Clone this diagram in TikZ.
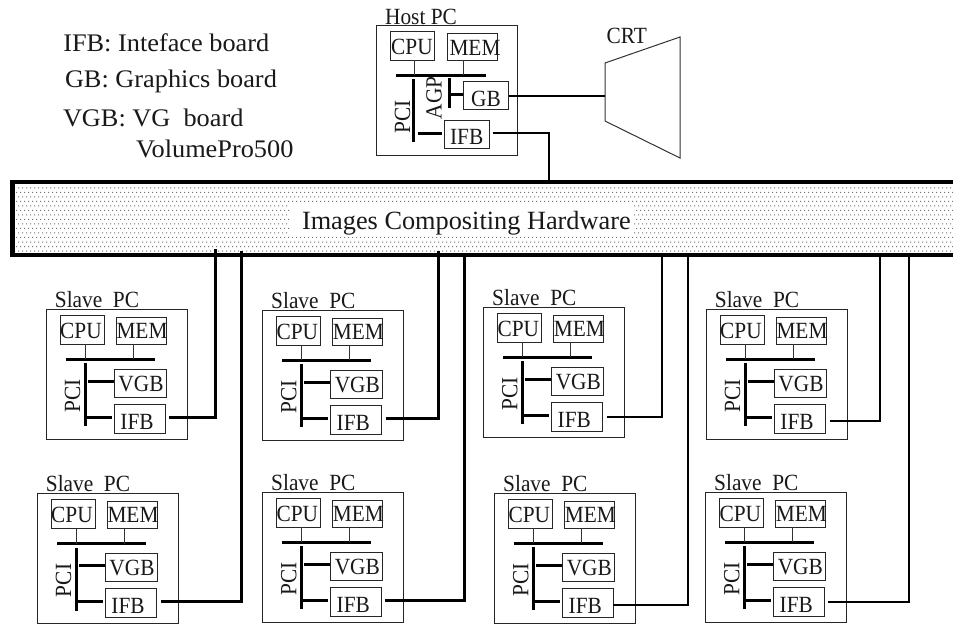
\documentclass[tikz,border=0pt]{standalone}
\usepackage{fontspec}
\setmainfont{Liberation Serif}
\newfontfamily\boxfam[FakeStretch=0.92]{Liberation Serif}
\newfontfamily\legfam[FakeStretch=1.04]{Liberation Serif}
\usetikzlibrary{patterns}
\pgfdeclarepatternformonly{imgdots}{\pgfqpoint{-0.5pt}{-0.5pt}}{\pgfqpoint{4pt}{9pt}}{\pgfqpoint{4pt}{9pt}}{%
  \pgfpathrectangle{\pgfqpoint{0pt}{0pt}}{\pgfqpoint{1pt}{1pt}}%
  \pgfpathrectangle{\pgfqpoint{2pt}{4.5pt}}{\pgfqpoint{1pt}{1pt}}%
  \pgfusepath{fill}}
\tikzset{
  txt/.style={inner sep=0pt,outer sep=0pt,anchor=base,font=\boxfam\fontsize{23.2}{25}\selectfont,text=black!90},
  big/.style={inner sep=0pt,outer sep=0pt,anchor=base west,font=\fontsize{26.3}{30}\selectfont,text=black!90},
  leg/.style={inner sep=0pt,outer sep=0pt,anchor=base west,font=\legfam\fontsize{25.3}{30}\selectfont,text=black!90},
  vert/.style={inner sep=0pt,outer sep=0pt,rotate=90,anchor=base,font=\boxfam\fontsize{23.2}{25}\selectfont,text=black!90},
  pcbox/.style={draw=black!85,line width=1pt,inner sep=0pt,outer sep=0pt,fill=none},
  thin/.style={draw=black!80,line width=1pt},
  busln/.style={draw=black,line width=3pt},
  link/.style={draw=black,line width=3pt,line join=miter},
  linkb/.style={draw=black,line width=2pt,line join=miter},
}
\newcommand{\slavepc}[3]{%
\begin{scope}[shift={(#2,#3)}]
  \node[pcbox,minimum width=141pt,minimum height=130pt] (#1box) at (70.5,65) {};
  \node[txt] (#1title) at (51,-2) {Slave\ \ PC};
  \node[pcbox,minimum width=44pt,minimum height=29pt] (#1cpu) at (36,20.5) {};
  \node[pcbox,minimum width=50pt,minimum height=27pt] (#1mem) at (95,21.5) {};
  \node[pcbox,minimum width=52pt,minimum height=28pt] (#1vgb) at (94,74) {};
  \node[pcbox,minimum width=51.5pt,minimum height=29pt] (#1ifb) at (93.75,109.5) {};
  \node[txt] (#1cput) at (35,29) {CPU};
  \node[txt] (#1memt) at (96,29) {MEM};
  \node[txt] (#1vgbt) at (95,82) {VGB};
  \node[txt] (#1ifbt) at (91,120) {IFB};
  \node[vert] (#1pci) at (34,86.7) {PCI};
  \coordinate (#1bl) at (20,50);
  \coordinate (#1br) at (109,50);
  \coordinate (#1ca) at (39,50);
  \coordinate (#1cb) at (87,50);
  \coordinate (#1pt) at (39,54);
  \coordinate (#1pb) at (39,117);
  \coordinate (#1va) at (42,72);
  \coordinate (#1ia) at (41,108);
  \coordinate (#1ib) at (66,108);
  \draw[busln] (#1bl) -- (#1br);
  \draw[thin] (#1cpu.south -| #1ca) -- (#1ca);
  \draw[thin] (#1mem.south -| #1cb) -- (#1cb);
  \draw[busln] (#1pt) -- (#1pb);
  \draw[busln] (#1va) -- (#1va -| #1vgb.west);
  \draw[busln] (#1ia) -- (#1ib);
\end{scope}}
\begin{document}
\begin{tikzpicture}[x=1pt,y=-1pt]
\useasboundingbox (0,0) rectangle (953,625);
\fill[white] (0,0) rectangle (953,625);
% compositing hardware
\node[inner sep=0pt,outer sep=0pt,minimum width=938pt,minimum height=69pt,pattern=imgdots,pattern color=black!55] (hw) at (484,218.5) {};
\fill[white] (289.5,202) rectangle (632.7,237);
\node[big] (hwt) at (302,229.3) {Images Compositing Hardware};
\draw[line width=4.5pt,line join=miter] (953,182) -- (12.5,182) -- (12.5,255) -- (953,255);
% legend
\node[leg] (l1) at (63.3,51.7) {IFB: Inteface board};
\node[leg] (l2) at (65,87.7) {GB: Graphics board};
\node[leg] (l3) at (63,126.7) {VGB: VG\ \ board};
\node[leg] (l4) at (136,157.7) {VolumePro500};
% host
\node[pcbox,minimum width=141.7pt,minimum height=130.4pt] (host) at (446.85,90.5) {};
\node[txt] (hostt) at (421,24) {Host PC};
\node[pcbox,minimum width=44pt,minimum height=29pt] (hcpu) at (412.3,45.5) {};
\node[pcbox,minimum width=50pt,minimum height=27pt] (hmem) at (472,46.5) {};
\node[pcbox,minimum width=45.4pt,minimum height=27.6pt] (hgb) at (486,95.5) {};
\node[pcbox,minimum width=45.3pt,minimum height=28pt] (hifb) at (467.3,134.3) {};
\node[txt] (hcput) at (412,54) {CPU};
\node[txt] (hmemt) at (475,55) {MEM};
\node[txt] (hgbt) at (486,106) {GB};
\node[txt] (hifbt) at (466.7,144) {IFB};
\node[vert] (hpci) at (410,117) {PCI};
\node[vert] (hagp) at (441.7,98) {AGP};
\coordinate (hbl) at (396,75);
\coordinate (hbr) at (486,75);
\coordinate (hca) at (414.7,75);
\coordinate (hcb) at (463.3,75);
\coordinate (hpt) at (413.7,79);
\coordinate (hpb) at (413.7,142);
\coordinate (hat) at (449.3,78);
\coordinate (hab) at (449.3,107.7);
\coordinate (haj) at (449.3,94);
\coordinate (hpa) at (417.7,133.7);
\coordinate (hpc) at (442.3,133.7);
\coordinate (hio) at (492.7,132.7);
\coordinate (hit) at (548.7,182);
\draw[busln] (hbl) -- (hbr);
\draw[thin] (hcpu.south -| hca) -- (hca);
\draw[thin] (hmem.south -| hcb) -- (hcb);
\draw[busln] (hpt) -- (hpb);
\draw[busln] (hat) -- (hab);
\draw[busln] (haj) -- (haj -| hgb.west);
\draw[busln] (hpa) -- (hpc);
\draw[linkb] (hio) -| (hit);
% CRT
\coordinate (ca) at (605,63);
\coordinate (cb) at (680,37);
\coordinate (cc) at (680,158);
\coordinate (cd) at (605,121);
\draw[thin] (ca) -- (cb) -- (cc) -- (cd) -- cycle;
\node[txt] (crt) at (626.7,43) {CRT};
\draw[linkb] (hgb.east |- 0,96.3) -- (605,96.3);
% slaves
\slavepc{sa}{46}{309}
\slavepc{sb}{262.3}{310.3}
\slavepc{sc}{483.3}{307}
\slavepc{sd}{706}{309}
\slavepc{se}{37}{493.7}
\slavepc{sf}{262.3}{492.3}
\slavepc{sg}{494.3}{493.3}
\slavepc{sh}{705.3}{492.3}
% links to the compositing hardware
\coordinate (ao) at (169,417);   \coordinate (at) at (215,249);
\coordinate (bo) at (385.5,418); \coordinate (bt) at (438,251);
\coordinate (co) at (607,416.7); \coordinate (ct) at (661.7,255);
\coordinate (do) at (830,420.7); \coordinate (dt) at (880,255);
\coordinate (eo) at (161,601);   \coordinate (et) at (241,251);
\coordinate (fo) at (385,600);   \coordinate (ft) at (464.3,254);
\coordinate (go) at (613,604.7); \coordinate (gt) at (688,255);
\coordinate (ho) at (828,602);   \coordinate (ht) at (908.7,255);
\draw[link] (ao) -| (at);
\draw[link] (bo) -| (bt);
\draw[linkb] (co) -| (ct);
\draw[linkb] (do) -| (dt);
\draw[link] (eo) -| (et);
\draw[link] (fo) -| (ft);
\draw[linkb] (go) -| (gt);
\draw[linkb] (ho) -| (ht);
\end{tikzpicture}
\end{document}
